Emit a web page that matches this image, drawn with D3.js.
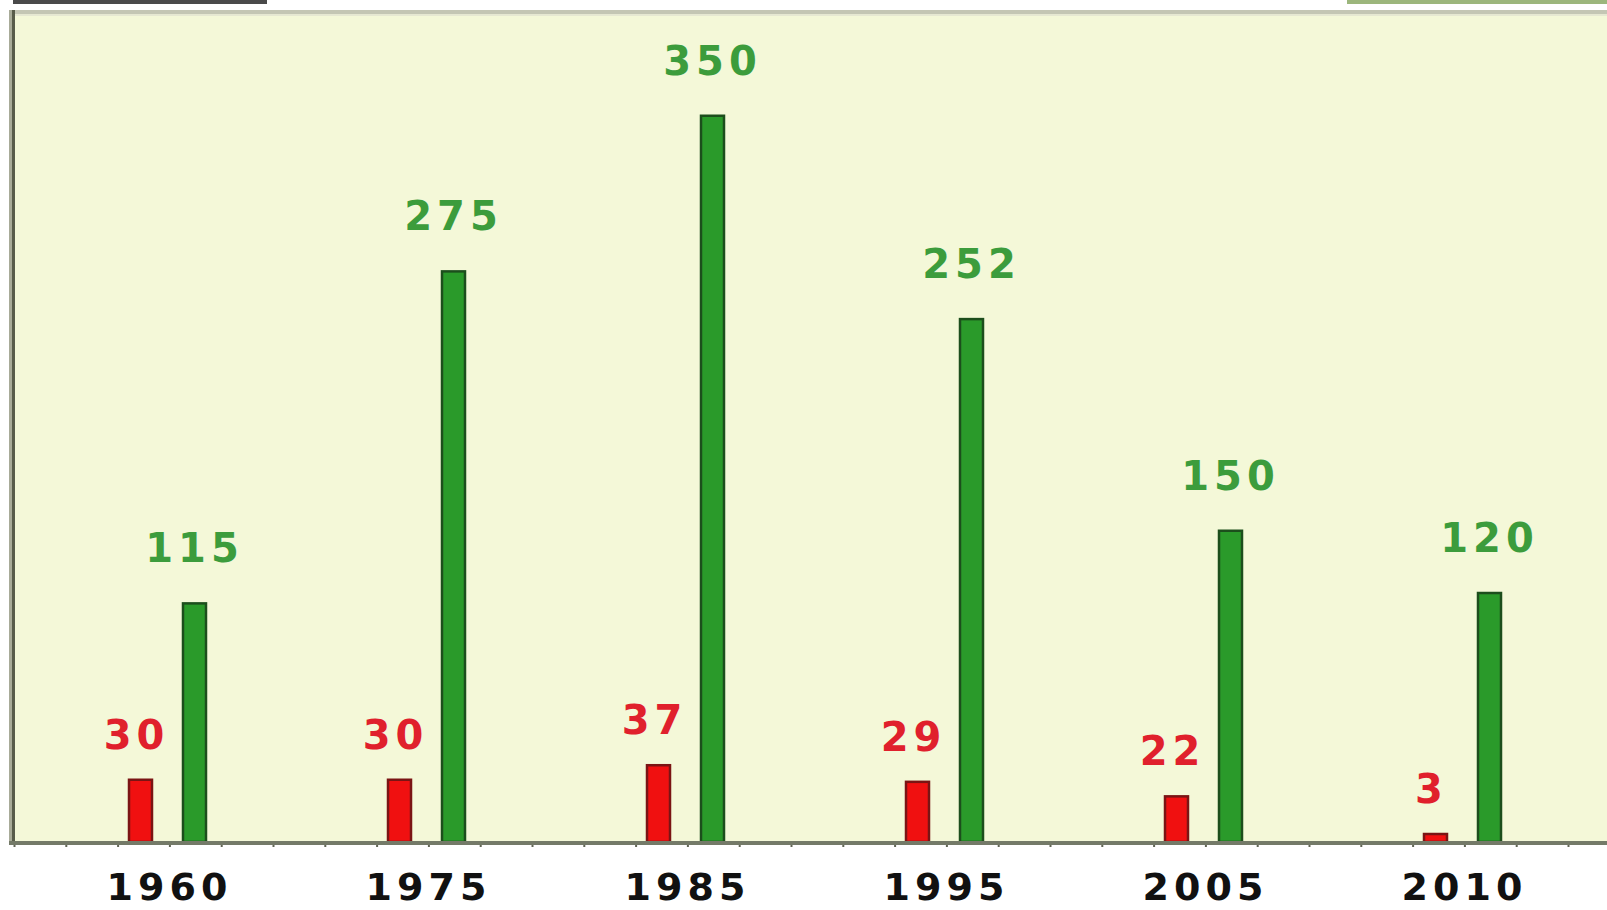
<!DOCTYPE html>
<html>
<head>
<meta charset="utf-8">
<script src="https://cdn.jsdelivr.net/npm/d3@7"></script>
<style>
  html, body { margin: 0; padding: 0; background: #ffffff; }
  svg { display: block; }
</style>
</head>
<body>
<svg id="chart" width="1607" height="910"></svg>
<script>
// ---- data ----
const years = ["1960", "1975", "1985", "1995", "2005", "2010"];
const redValues = [30, 30, 37, 29, 22, 3];
const greenValues = [115, 275, 350, 252, 150, 120];
const series = ["red", "green"];
const yTicks = [0, 50, 100, 150, 200, 250, 300, 350];

const W = 1607, H = 910;
const svg = d3.select("#chart");

const baseY = 842, topY = 12, leftX = 14, rightX = 1607;

const x0 = d3.scaleBand().domain(years).range([38, 1592]).padding(0);
const x1 = d3.scaleBand().domain(series).range([90, 169]).paddingInner(0.537).paddingOuter(0);
const y = d3.scaleLinear().domain([0, 400]).range([baseY, topY]);

// remnants of header at top
svg.append("rect").attr("x", 13).attr("y", 0).attr("width", 254).attr("height", 4).attr("fill", "#4a4a4a");
svg.append("rect").attr("x", 1347).attr("y", 0).attr("width", 260).attr("height", 4).attr("fill", "#9cb67c");

// plot background
svg.append("rect").attr("x", leftX).attr("y", 12).attr("width", rightX - leftX).attr("height", baseY - 12)
  .attr("fill", "#f4f8d8");
// top border
svg.append("rect").attr("x", leftX).attr("y", 10).attr("width", rightX - leftX).attr("height", 4).attr("fill", "#c4c6b4");
svg.append("rect").attr("x", leftX).attr("y", 14).attr("width", rightX - leftX).attr("height", 2).attr("fill", "#e6e8d2");

// left axis (ticks only)
const yAxis = d3.axisLeft(y).tickValues(yTicks).tickSize(5).tickFormat("");
const gy = svg.append("g").attr("transform", `translate(${leftX},0)`).call(yAxis);
gy.select(".domain").remove();
gy.selectAll(".tick line").attr("stroke", "#7a7e6c").attr("stroke-width", 2);
svg.append("rect").attr("x", 9).attr("y", 10).attr("width", 3).attr("height", baseY - 8).attr("fill", "#a8ab98");
svg.append("rect").attr("x", 12).attr("y", 10).attr("width", 3).attr("height", baseY - 8).attr("fill", "#585c4a");

// bottom minor ticks
const xt = d3.scaleLinear().domain([0, 30]).range([14, 1568]);
const xAxisMinor = d3.axisBottom(xt).ticks(30).tickSize(3).tickFormat("");
const gx = svg.append("g").attr("transform", `translate(0,${baseY + 2})`).call(xAxisMinor);
gx.select(".domain").remove();
gx.selectAll(".tick line").attr("stroke", "#606454").attr("stroke-width", 2);

// bars
const groups = svg.append("g").selectAll("g").data(years).join("g")
  .attr("transform", d => `translate(${x0(d)},0)`);

const styles = {
  red: { fill: "#f01010", stroke: "#7a1414", label: "#e0202c", off: 31, dx: -4 },
  green: { fill: "#2a9a2a", stroke: "#1c4e1c", label: "#3c9c3c", off: 41, dx: 0 }
};

groups.each(function(year, i) {
  const g = d3.select(this);
  const vals = { red: redValues[i], green: greenValues[i] };
  series.forEach(s => {
    const v = vals[s];
    const top = Math.min(y(v), baseY - 8);
    g.append("rect")
      .attr("x", x1(s) + 1)
      .attr("y", top)
      .attr("width", x1.bandwidth() - 2)
      .attr("height", baseY - top)
      .attr("fill", styles[s].fill)
      .attr("stroke", styles[s].stroke)
      .attr("stroke-width", 2.5);
    g.append("text")
      .attr("x", x1(s) + x1.bandwidth() / 2 + styles[s].dx)
      .attr("y", top - styles[s].off)
      .attr("text-anchor", "middle")
      .attr("font-family", "DejaVu Sans, Verdana, sans-serif")
      .attr("font-weight", "bold")
      .attr("font-size", 40)
      .attr("letter-spacing", 5)
      .attr("fill", styles[s].label)
      .text(v);
  });
});

// baseline
svg.append("rect").attr("x", 9).attr("y", baseY - 1).attr("width", rightX - 9).attr("height", 4).attr("fill", "#747a68");

// year labels
svg.append("g").selectAll("text").data(years).join("text")
  .attr("x", d => x0(d) + x0.bandwidth() / 2 + 2)
  .attr("y", 900)
  .attr("text-anchor", "middle")
  .attr("font-family", "DejaVu Sans, Verdana, sans-serif")
  .attr("font-weight", "bold")
  .attr("font-size", 38)
  .attr("letter-spacing", 5)
  .attr("fill", "#111111")
  .text(d => d);
</script>
</body>
</html>
